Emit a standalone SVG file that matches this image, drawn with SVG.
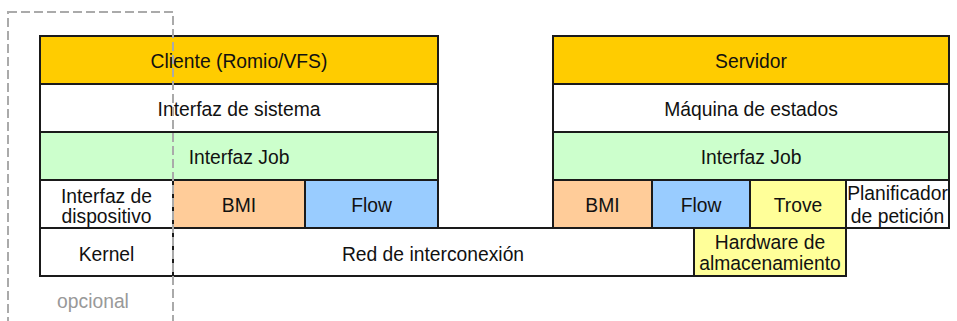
<svg xmlns="http://www.w3.org/2000/svg" width="957" height="321" viewBox="0 0 957 321">
<style>
.b{stroke:#1a1a1a;stroke-width:2}
.t{font-family:"Liberation Sans",Arial,sans-serif;font-size:19.3px;fill:#111;text-anchor:middle}
.or{fill:#ffcc00}.wh{fill:#ffffff}.gr{fill:#ccffcc}.bmi{fill:#ffcc99}.fl{fill:#99ccff}.tr{fill:#ffff99}
</style>
<g id="cliente">
<rect class="b or" x="40" y="36" width="398" height="48"/>
<text class="t" x="239" y="68">Cliente (Romio/VFS)</text>
</g>
<g id="interfaz-sistema">
<rect class="b wh" x="40" y="84" width="398" height="48"/>
<text class="t" x="239" y="116">Interfaz de sistema</text>
</g>
<g id="interfaz-job-cliente">
<rect class="b gr" x="40" y="132" width="398" height="48"/>
<text class="t" x="239" y="164">Interfaz Job</text>
</g>
<g id="interfaz-dispositivo">
<rect class="b wh" x="40" y="180" width="133" height="48"/>
<text class="t" x="106.5" y="203">Interfaz de</text>
<text class="t" x="106.5" y="223">dispositivo</text>
</g>
<g id="bmi-cliente">
<rect class="b bmi" x="173" y="180" width="132" height="48"/>
<text class="t" x="239" y="212">BMI</text>
</g>
<g id="flow-cliente">
<rect class="b fl" x="305" y="180" width="133" height="48"/>
<text class="t" x="371.5" y="212">Flow</text>
</g>
<g id="kernel">
<rect class="b wh" x="40" y="228" width="133" height="48"/>
<text class="t" x="106.5" y="261">Kernel</text>
</g>
<g id="red">
<rect class="b wh" x="173" y="228" width="521" height="48"/>
<text class="t" x="433" y="261">Red de interconexión</text>
</g>
<g id="servidor">
<rect class="b or" x="553" y="36" width="396" height="48"/>
<text class="t" x="751" y="68">Servidor</text>
</g>
<g id="maquina-estados">
<rect class="b wh" x="553" y="84" width="396" height="48"/>
<text class="t" x="751" y="116">Máquina de estados</text>
</g>
<g id="interfaz-job-servidor">
<rect class="b gr" x="553" y="132" width="396" height="48"/>
<text class="t" x="751" y="164">Interfaz Job</text>
</g>
<g id="bmi-servidor">
<rect class="b bmi" x="553" y="180" width="99" height="48"/>
<text class="t" x="602.5" y="212">BMI</text>
</g>
<g id="flow-servidor">
<rect class="b fl" x="652" y="180" width="98" height="48"/>
<text class="t" x="701" y="212">Flow</text>
</g>
<g id="trove">
<rect class="b tr" x="750" y="180" width="96" height="48"/>
<text class="t" x="798" y="212">Trove</text>
</g>
<g id="planificador">
<rect class="b wh" x="846" y="180" width="103" height="48"/>
<text class="t" x="897.5" y="200">Planificador</text>
<text class="t" x="897.5" y="223">de petición</text>
</g>
<g id="hardware">
<rect class="b tr" x="694" y="228" width="152" height="48"/>
<text class="t" x="770" y="249">Hardware de</text>
<text class="t" x="770" y="270">almacenamiento</text>
</g>
<g id="opcional">
<rect x="8" y="12" width="165" height="330" fill="none" stroke="#aaaaaa" stroke-width="2" stroke-dasharray="9,4"/>
<text class="t" x="93" y="308" style="fill:#999999">opcional</text>
</g>
</svg>
